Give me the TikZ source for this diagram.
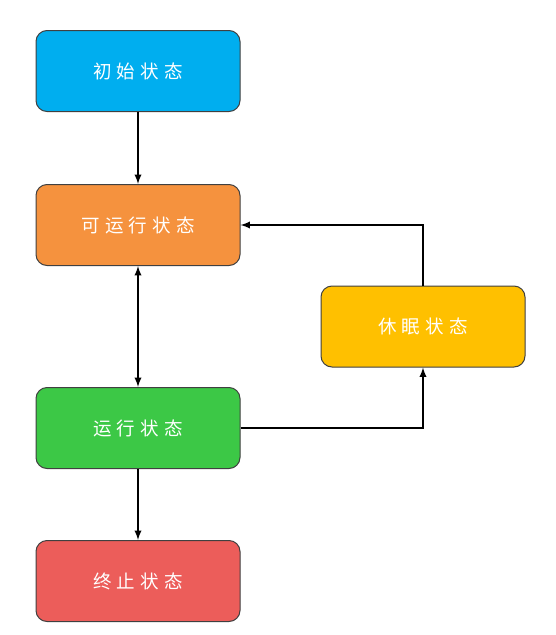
\documentclass[tikz,border=0pt]{standalone}
\usepackage{fontspec}
\usepackage{xcolor}
\usepackage{tikz}
\usetikzlibrary{arrows,shapes}
\newfontfamily\cjk[LetterSpace=28]{Noto Sans CJK SC}
\definecolor{startblue}{RGB}{0,174,239}
\definecolor{readyorange}{RGB}{245,146,62}
\definecolor{rungreen}{RGB}{60,200,70}
\definecolor{endred}{RGB}{236,93,90}
\definecolor{sleepyellow}{RGB}{255,192,0}
\tikzset{
	state/.style={draw=black!75, line width=1pt, rounded corners=11pt,
		minimum width=204pt, minimum height=81pt, inner sep=0pt,
		text=white, font=\cjk\fontsize{18.5}{22}\selectfont}
}

\begin{document}
\begin{tikzpicture}[x=1pt,y=-1pt,>=latex]
		\useasboundingbox (0,0) rectangle (555,635);
		\node[state,fill=startblue] (S) at (138,71) {初始状态};
		\node[state,fill=readyorange] (R) at (138,225) {可运行状态};
		\node[state,fill=rungreen] (N) at (138,428) {运行状态};
		\node[state,fill=endred] (E) at (138,581) {终止状态};
		\node[state,fill=sleepyellow] (Z) at (423,326.5) {休眠状态};
		%
		\path[->,line width=2.2pt]
		(S) edge (R)
		(N) edge (E);
		\draw[<->,line width=2.2pt] (R) -- (N);
		\draw[->,line width=2.2pt] (N.east) -| (Z.south);
		\draw[->,line width=2.2pt] (Z.north) |- (R.east);
		\end{tikzpicture}
\end{document}
